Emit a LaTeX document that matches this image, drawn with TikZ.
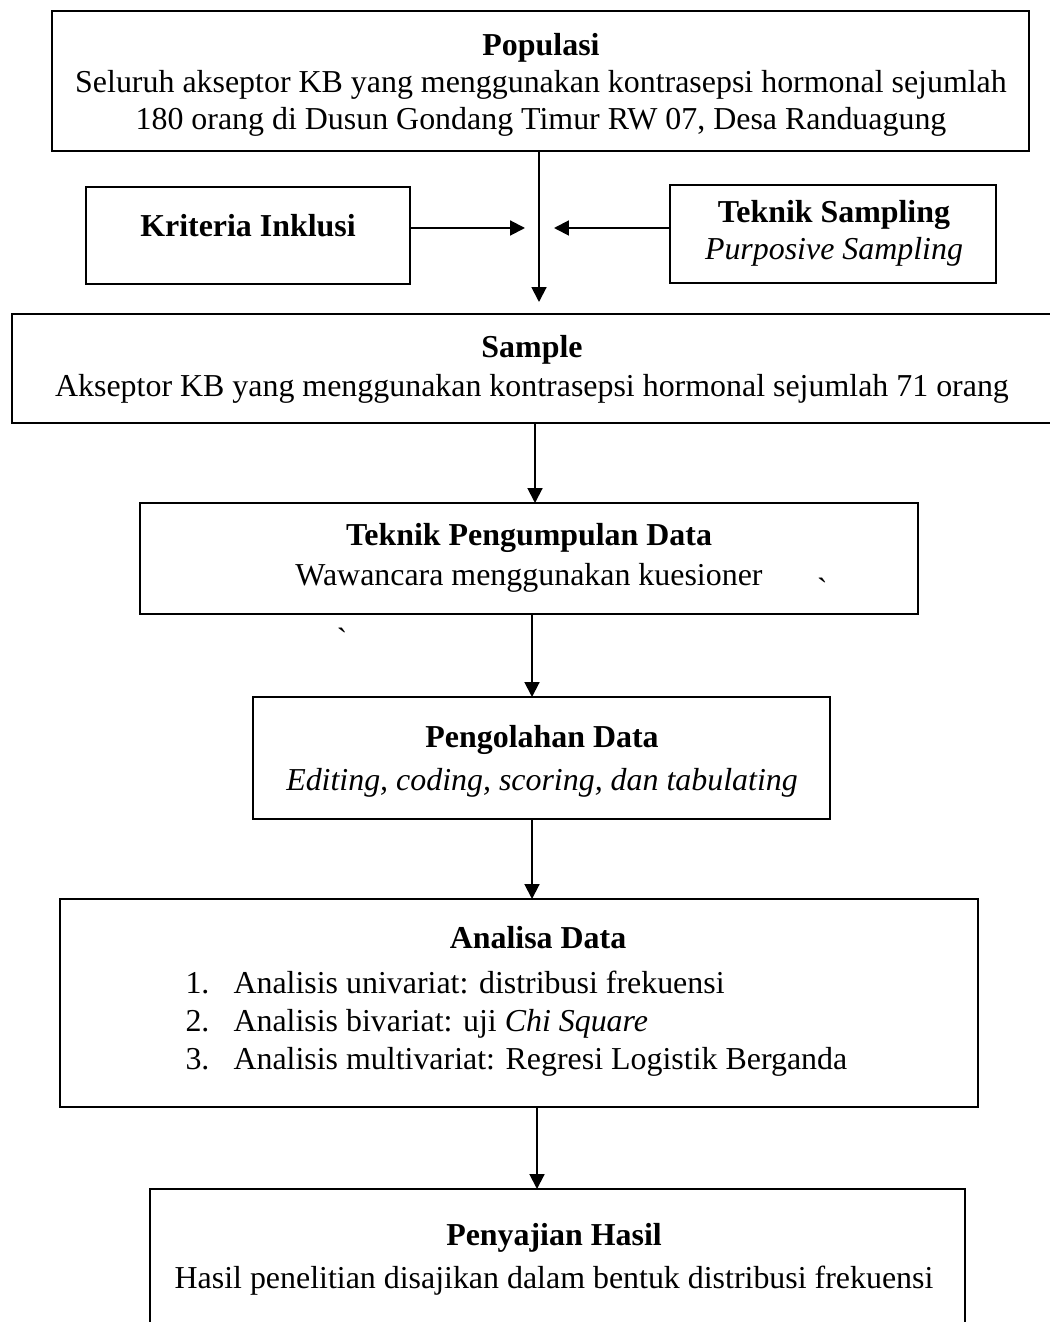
\documentclass[tikz,border=0pt]{standalone}
\usepackage{fontspec}
\setmainfont{Liberation Serif}
\usetikzlibrary{arrows.meta,fit}
\begin{document}
\begin{tikzpicture}[x=0.376pt,y=-0.376pt,
  box/.style={draw,line width=1.1pt,inner sep=0pt,outer sep=0pt,rectangle},
  txt/.style={anchor=base,inner sep=0pt,font=\fontsize{12pt}{13.8pt}\selectfont},
  ltxt/.style={txt,anchor=base west},
  arr/.style={line width=0.75pt,-{Triangle[length=5.6pt,width=5.6pt]}}]
\useasboundingbox (0,0) rectangle (1049,1322);

% boxes
\node[box,fit={(52,11) (1029,151)}] (pop) {};
\node[box,fit={(86,187) (410,284)}] (ki) {};
\node[box,fit={(670,185) (996,283)}] (ts) {};
\node[box,fit={(12,314) (1052,423)}] (sam) {};
\node[box,fit={(140,503) (918,614)}] (tpd) {};
\node[box,fit={(253,697) (830,819)}] (pol) {};
\node[box,fit={(60,899) (978,1107)}] (ana) {};
\node[box,fit={(150,1189) (965,1345)}] (pen) {};

% texts
\node[txt] (pop1) at (541,56) {\bfseries Populasi};
\node[txt] (pop2) at (541,92.7) {Seluruh akseptor KB yang menggunakan kontrasepsi hormonal sejumlah};
\node[txt] (pop3) at (541,129.3) {180 orang di Dusun Gondang Timur RW 07, Desa Randuagung};

\node[txt] (ki1) at (248,237) {\bfseries Kriteria Inklusi};

\node[txt] (ts1) at (834,223) {\bfseries Teknik Sampling};
\node[txt] (ts2) at (834,260) {\itshape Purposive Sampling};

\node[txt] (sam1) at (532,358) {\bfseries Sample};
\node[txt] (sam2) at (532,397) {Akseptor KB yang menggunakan kontrasepsi hormonal sejumlah 71 orang};

\node[txt] (tpd1) at (529,546) {\bfseries Teknik Pengumpulan Data};
\node[txt] (tpd2) at (529,585) {Wawancara menggunakan kuesioner};

\node[txt] (pol1) at (542,747) {\bfseries Pengolahan Data};
\node[txt] (pol2) at (542,790) {\itshape Editing, coding, scoring, dan tabulating};

\node[txt] (ana1) at (538,948) {\bfseries Analisa Data};
\node[ltxt] (n1) at (185,993) {1.};
\node[ltxt] (i1) at (233,993) {Analisis univariat: distribusi frekuensi};
\node[ltxt] (n2) at (185,1031) {2.};
\node[ltxt] (i2) at (233,1031) {Analisis bivariat: uji \textit{Chi Square}};
\node[ltxt] (n3) at (185,1069) {3.};
\node[ltxt] (i3) at (233,1069) {Analisis multivariat: Regresi Logistik Berganda};

\node[txt] (pen1) at (554,1245) {\bfseries Penyajian Hasil};
\node[txt] (pen2) at (554,1288) {Hasil penelitian disajikan dalam bentuk distribusi frekuensi};

% stray marks
\node[txt] (m1) at (823,606) {\`{}};
\node[txt] (m2) at (343,656) {\`{}};

% connectors
\coordinate (a1) at (539,302);
\coordinate (k1) at (525,228);
\coordinate (k2) at (554,228);
\coordinate (c2) at (535,0);
\coordinate (c3) at (532,0);
\coordinate (c5) at (537,0);

\draw[arr] (pop.south -| a1) -- (a1);
\draw[arr] (ki.east |- k1) -- (k1);
\draw[arr] (ts.west |- k2) -- (k2);
\draw[arr] (sam.south -| c2) -- (tpd.north -| c2);
\draw[arr] (tpd.south -| c3) -- (pol.north -| c3);
\draw[arr] (pol.south -| c3) -- (ana.north -| c3);
\draw[arr] (ana.south -| c5) -- (pen.north -| c5);
\end{tikzpicture}
\end{document}
